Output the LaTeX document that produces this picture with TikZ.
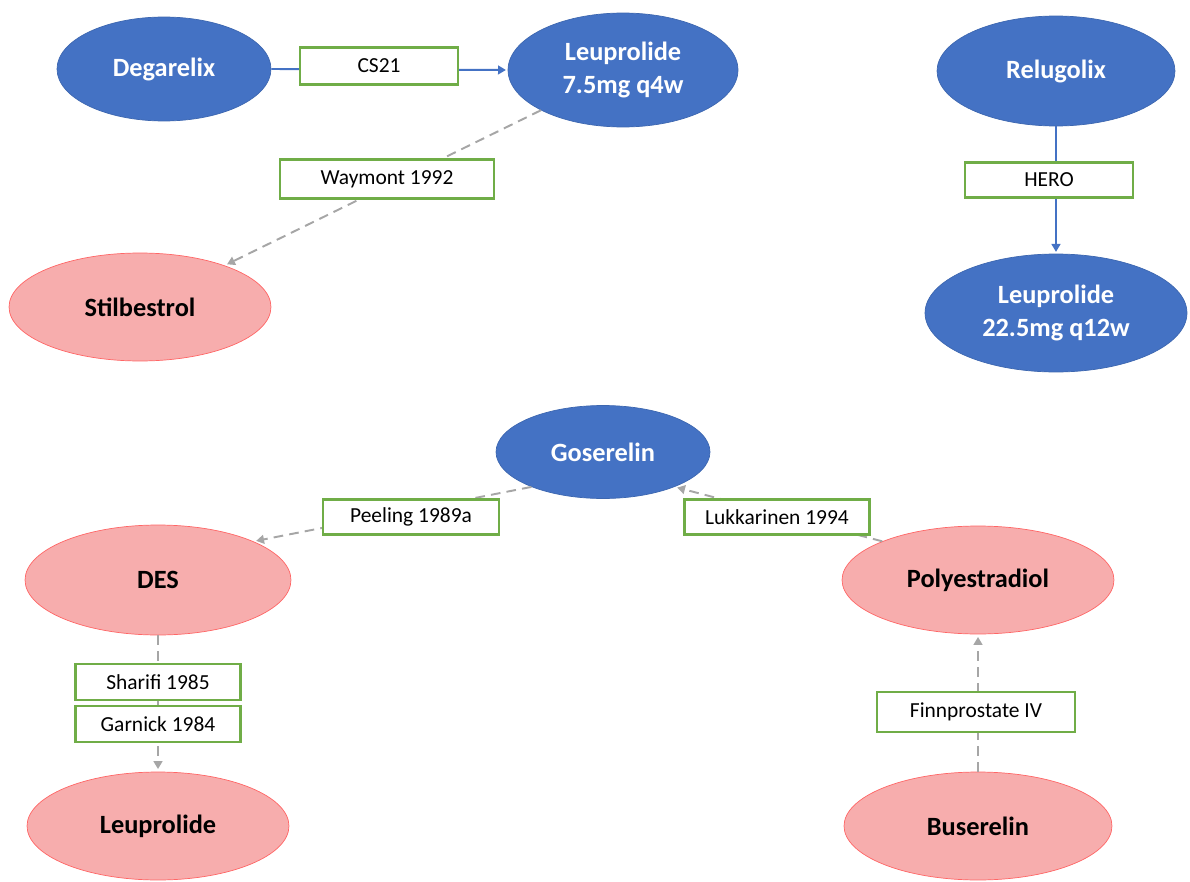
\documentclass[tikz,border=0pt]{standalone}
\usepackage{fontspec}
\setmainfont{Carlito}
\usetikzlibrary{shapes.geometric,arrows.meta}
\definecolor{drugblue}{HTML}{4472C4}
\definecolor{drugpink}{HTML}{F7ADAD}
\definecolor{pinkline}{HTML}{FF6666}
\definecolor{boxgreen}{HTML}{70AD47}
\definecolor{dashgray}{HTML}{A6A6A6}

\begin{document}
\begin{tikzpicture}[x=0.02cm, y=-0.02cm,
        active/.style={ellipse, draw=drugblue!90!black, fill=drugblue, text=white, inner sep=0pt,
            align=center, font=\fontsize{15}{18.5}\selectfont\bfseries},
        control/.style={ellipse, draw=pinkline, fill=drugpink, text=black, inner sep=0pt,
            align=center, font=\fontsize{15}{18.5}\selectfont\bfseries},
        trial/.style={draw=boxgreen, line width=1.4pt, fill=white, inner sep=0pt,
            font=\fontsize{12.2}{14}\selectfont},
        solidarr/.style={draw=drugblue, line width=1.1pt, -{Triangle[length=4.5pt,width=5pt]}, shorten >=1pt},
        dasharr/.style={draw=dashgray, line width=1.1pt, dash pattern=on 5.5pt off 3.5pt,
            -{Triangle[length=4.5pt,width=5pt]}, shorten >=1.5pt}]
        \useasboundingbox (0,0) rectangle (1190,882);
        % The treatment ellipses.
            \node[active, minimum width=4.28cm, minimum height=2.08cm] (degarelix) at (164,69) {Degarelix};
            \node[active, minimum width=4.6cm, minimum height=2.28cm] (leupq4) at (623,70) {Leuprolide\\7.5mg q4w};
            \node[control, minimum width=5.24cm, minimum height=2.16cm] (stilbestrol) at (140,307) {Stilbestrol};
            \node[active, minimum width=4.76cm, minimum height=2.2cm] (relugolix) at (1056,71) {Relugolix};
            \node[active, minimum width=5.24cm, minimum height=2.36cm] (leupq12) at (1056,313) {Leuprolide\\22.5mg q12w};
            \node[active, minimum width=4.28cm, minimum height=1.86cm] (goserelin) at (603,452) {Goserelin};
            \node[control, minimum width=5.32cm, minimum height=2.2cm] (des) at (158,580) {DES};
            \node[control, minimum width=5.44cm, minimum height=2.16cm] (polyestradiol) at (978,580) {Polyestradiol};
            \node[control, minimum width=5.24cm, minimum height=2.16cm] (leuprolide) at (158,826) {Leuprolide};
            \node[control, minimum width=5.36cm, minimum height=2.16cm] (buserelin) at (978,826) {Buserelin};
        % This draws the comparisons.
            \draw[solidarr] (degarelix.east) -- (leupq4.west);
            \draw[dasharr] (leupq4) -- (stilbestrol);
            \draw[solidarr] (relugolix.south) -- (leupq12.north);
            \draw[dasharr] (goserelin.206) -- (des.22);
            \draw[dasharr] (polyestradiol.158) -- (goserelin.334);
            \draw[dasharr] (des.south) -- (leuprolide.north);
            \draw[dasharr] (buserelin.north) -- (polyestradiol.south);
        % Below nodes are the trial labels.
            \node[trial, minimum width=3.16cm, minimum height=0.74cm] (cs) at (379,66) {CS21};
            \node[trial, minimum width=4.28cm, minimum height=0.78cm] (waymont) at (387,179) {Waymont 1992};
            \node[trial, minimum width=3.36cm, minimum height=0.7cm] (hero) at (1049,180) {HERO};
            \node[trial, minimum width=3.52cm, minimum height=0.7cm] (peeling) at (411,517) {Peeling 1989a};
            \node[trial, minimum width=3.7cm, minimum height=0.7cm] (lukkarinen) at (777,517) {Lukkarinen 1994};
            \node[trial, minimum width=3.3cm, minimum height=0.72cm] (sharifi) at (158,682) {Sharifi 1985};
            \node[trial, minimum width=3.3cm, minimum height=0.72cm] (garnick) at (158,724) {Garnick 1984};
            \node[trial, minimum width=3.96cm, minimum height=0.8cm] (finnprostate) at (976,712) {Finnprostate IV};
    \end{tikzpicture}
\end{document}
